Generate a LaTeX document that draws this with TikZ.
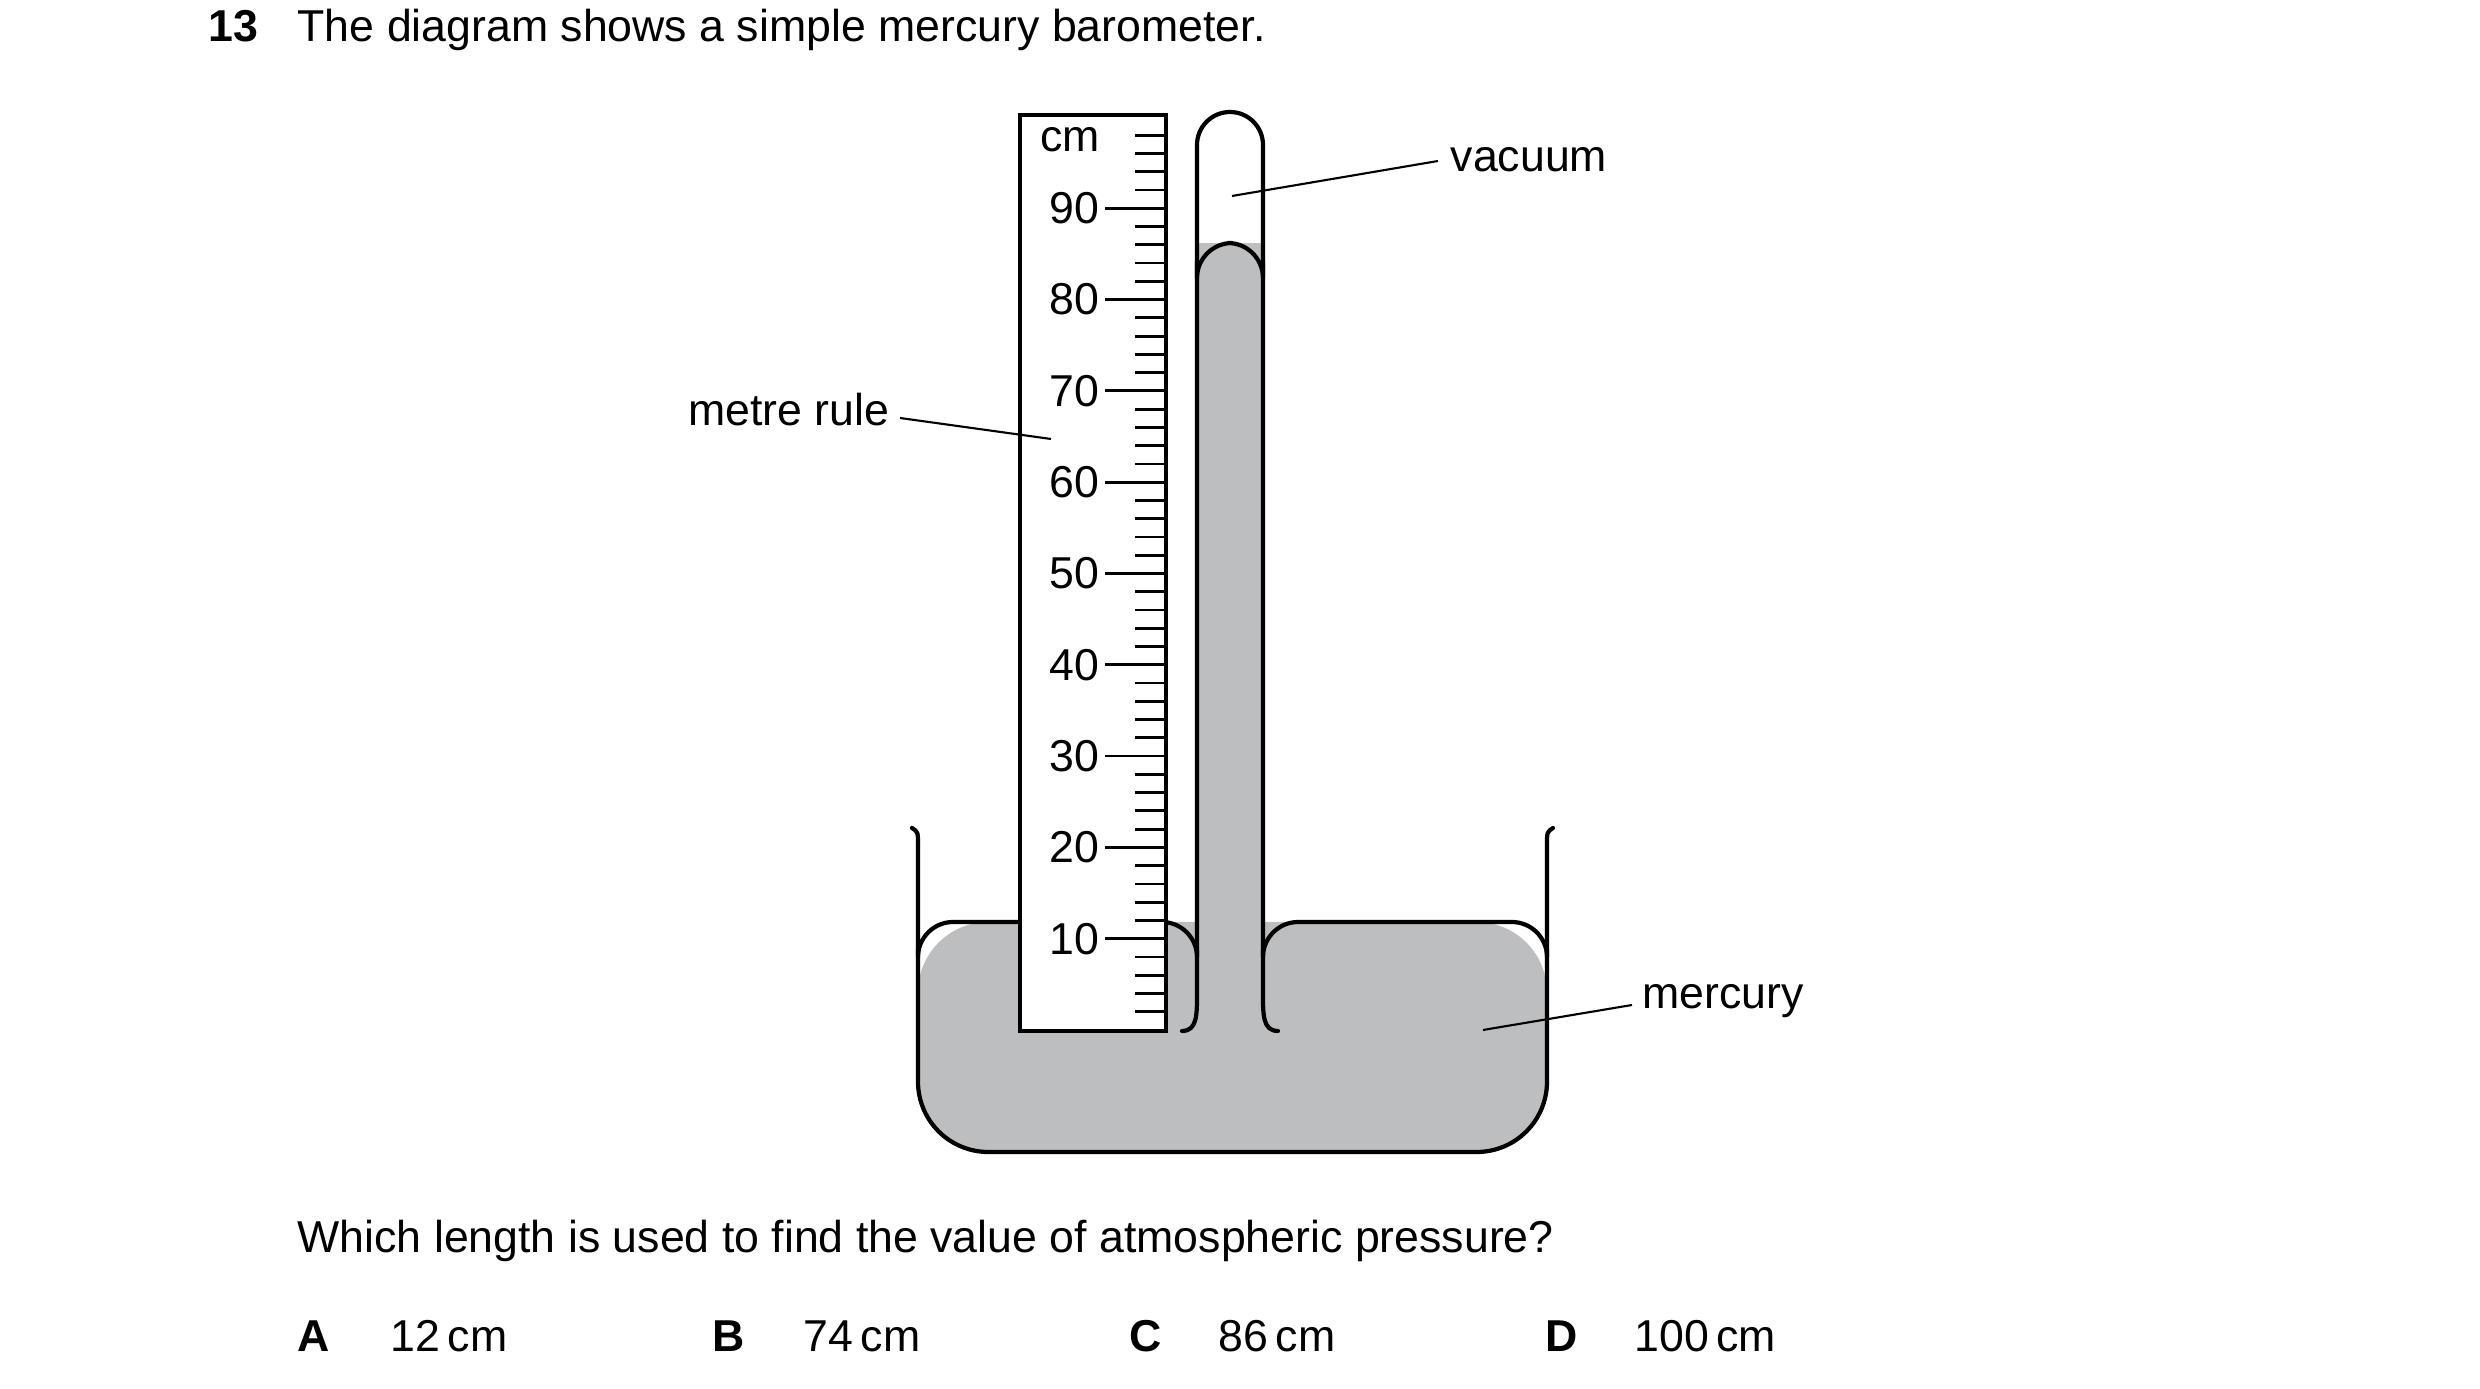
\documentclass[tikz,border=0pt]{standalone}
\usepackage{fontspec}
\setmainfont{Liberation Sans}
\usetikzlibrary{positioning,calc}
\definecolor{hg}{RGB}{189,190,192}
\tikzset{wall/.style={line width=1.2pt,line cap=round},
  tick/.style={line width=0.8pt},
  lead/.style={line width=0.6pt},
  lbl/.style={font=\fontsize{12.7}{15}\selectfont,inner sep=0pt}}
\begin{document}
\begin{tikzpicture}[x=0.01cm,y=-0.01cm]
\useasboundingbox (0,0) rectangle (2480,1389);

% question
\node[lbl,anchor=base west,font=\fontsize{12.7}{15}\selectfont\bfseries] (num) at (208,42) {13};
\node[lbl,anchor=base west] (title) at (297,42) {The diagram shows a simple mercury barometer.};

% mercury
\fill[hg,rounded corners=20] (918,922) rectangle (1547,1152);
\fill[hg] (1197,243) rectangle (1263,1031);

% dish
\draw[wall,rounded corners=20] (918,845) -- (918,1152) -- (1547,1152) -- (1547,845);
\draw[wall] (912,828) .. controls (918,832) .. (918,845);
\draw[wall] (1553,828) .. controls (1547,832) .. (1547,845);
\draw[wall,rounded corners=10] (918,950) -- (918,922) -- (1020,922);
\draw[wall,rounded corners=10] (1166,922) -- (1197,922) -- (1197,950);
\draw[wall,rounded corners=10] (1263,950) -- (1263,922) -- (1547,922) -- (1547,950);

% tube
\draw[wall] (1182,1031) .. controls (1197,1031) and (1197,1015) .. (1197,995)
  -- (1197,145) arc (180:360:33) -- (1263,995) .. controls (1263,1015) and (1263,1031) .. (1278,1031);
\draw[wall,rounded corners=10] (1197,262) -- (1197,243) -- (1263,243) -- (1263,262);

% metre rule
\draw[wall,fill=white] (1020,115) rectangle (1166,1031);
\node[lbl] (cm) at (1070,140) {cm};
\foreach \v in {2,4,...,98}
  \draw[tick] (1135,{1030-9.13*\v}) -- (1166,{1030-9.13*\v});
\foreach \v in {10,20,...,90}{
  \draw[tick] (1105,{1030-9.13*\v}) -- (1166,{1030-9.13*\v});
  \node[lbl,anchor=east] (n\v) at (1100,{1030-9.13*\v}) {\v};
}

% labels
\node[lbl,anchor=west] (vac) at (1450,160) {vacuum};
\coordinate (vacp) at (1232,196);
\draw[lead] (vacp) -- ($(vac.west)+(-12,1)$);
\node[lbl,anchor=east] (rule) at (890,410) {metre rule};
\coordinate (rulep) at (1051,439);
\draw[lead] (rulep) -- ($(rule.east)+(10,8)$);
\node[lbl,anchor=west] (merc) at (1642,1001) {mercury};
\coordinate (mercp) at (1483,1030);
\draw[lead] (mercp) -- ($(merc.west)+(-10,4)$);

\node[lbl,anchor=base west] (q) at (297,1253) {Which length is used to find the value of atmospheric pressure?};
\node[lbl,anchor=base west,font=\fontsize{12.7}{15}\selectfont\bfseries] (a) at (297,1352) {A};
\node[lbl,anchor=base west] (av) at (390,1352) {12\,cm};
\node[lbl,anchor=base west,font=\fontsize{12.7}{15}\selectfont\bfseries] (b) at (712,1352) {B};
\node[lbl,anchor=base west] (bv) at (803,1352) {74\,cm};
\node[lbl,anchor=base west,font=\fontsize{12.7}{15}\selectfont\bfseries] (c) at (1129,1352) {C};
\node[lbl,anchor=base west] (cv) at (1218,1352) {86\,cm};
\node[lbl,anchor=base west,font=\fontsize{12.7}{15}\selectfont\bfseries] (d) at (1545,1352) {D};
\node[lbl,anchor=base west] (dv) at (1634,1352) {100\,cm};
\end{tikzpicture}
\end{document}
